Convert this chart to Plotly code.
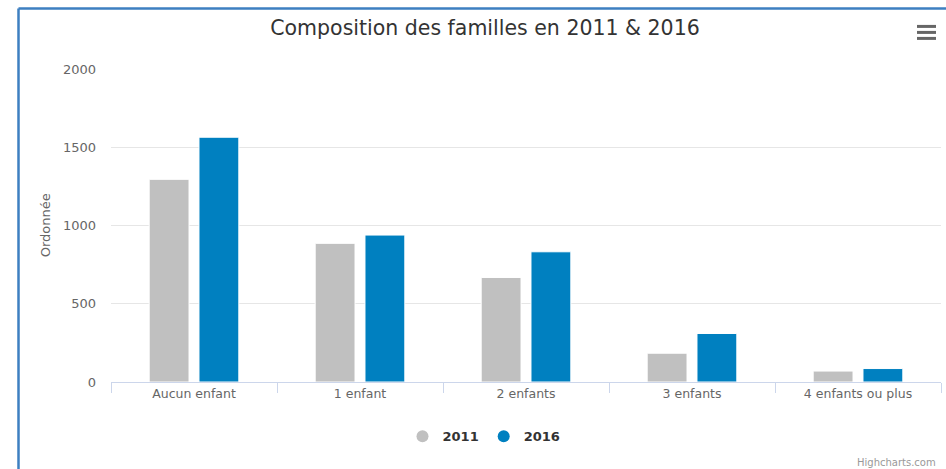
import plotly.graph_objects as go

categories = ["Aucun enfant", "1 enfant", "2 enfants", "3 enfants", "4 enfants ou plus"]
series_names = ["2011", "2016"]
values_2011 = [1295, 886, 668, 184, 70]
values_2016 = [1564, 939, 832, 310, 86]
colors = ["#c0c0c0", "#0080c0"]
y_ticks = [0, 500, 1000, 1500, 2000]

FONT = "DejaVu Sans"

fig = go.Figure()
for name, vals, col in zip(series_names, [values_2011, values_2016], colors):
    fig.add_trace(go.Bar(
        x=categories, y=vals, name=name, showlegend=False,
        marker=dict(color=col, line=dict(color="#ffffff", width=1)),
    ))
for name, col in zip(series_names, colors):
    fig.add_trace(go.Scatter(
        x=[None], y=[None], mode="markers", name=name,
        marker=dict(color=col, size=13, symbol="circle"),
    ))

W, H = 946, 469
L, R, T, B = 111, 5, 68.6, 87.3
pw = W - L - R
ph = H - T - B

def px(x):
    return (x - L) / pw

def py(y):
    return (H - B - y) / ph

shapes = [
    # container border (top and left)
    dict(type="line", xref="paper", yref="paper", x0=px(18.5), x1=px(950), y0=py(8), y1=py(8),
         line=dict(color="#3d7fc1", width=2.5)),
    dict(type="line", xref="paper", yref="paper", x0=px(18.5), x1=px(18.5), y0=py(8), y1=py(475),
         line=dict(color="#3d7fc1", width=2.5)),
]
# hamburger menu
for yy in [26, 32, 38]:
    shapes.append(dict(type="line", xref="paper", yref="paper", x0=px(917), x1=px(936),
                       y0=py(yy), y1=py(yy), line=dict(color="#666666", width=3)))

fig.update_layout(
    width=W, height=H,
    margin=dict(l=L, r=R, t=T, b=B),
    paper_bgcolor="white", plot_bgcolor="white",
    font=dict(family=FONT, color="#666666", size=12.5),
    title=dict(text="Composition des familles en 2011 & 2016", xref="container", x=485 / W,
               xanchor="center", yref="container", y=1 - 28 / H, yanchor="middle",
               font=dict(family=FONT, size=20.5, color="#333333")),
    barmode="group", bargap=0.4, bargroupgap=0.2,
    showlegend=True,
    legend=dict(orientation="h", x=px(484), xanchor="center", y=py(436), yanchor="middle",
                font=dict(family=FONT, size=13, color="#333333", weight="bold"),
                itemsizing="constant", itemwidth=30, bgcolor="rgba(0,0,0,0)"),
    xaxis=dict(showgrid=False, showline=True, linecolor="#ccd6eb", linewidth=1,
               ticks="outside", tickson="boundaries", ticklen=10, tickcolor="#ccd6eb",
               tickfont=dict(family=FONT, size=12.5, color="#666666"), zeroline=False),
    yaxis=dict(range=[0, 2000], tickvals=y_ticks, showgrid=True, gridcolor="#e6e6e6",
               gridwidth=1, zeroline=False, showline=False, ticks="",
               ticklabelstandoff=14,
               tickfont=dict(family=FONT, size=13, color="#666666")),
    shapes=shapes,
    annotations=[
        dict(text="Ordonnée", xref="paper", yref="paper", x=px(45), y=py(225),
             textangle=-90, showarrow=False, font=dict(family=FONT, size=13, color="#666666"),
             xanchor="center", yanchor="middle"),
        dict(text="Highcharts.com", xref="paper", yref="paper", x=px(938), y=py(462),
             showarrow=False, xanchor="right", yanchor="middle",
             font=dict(family=FONT, size=10, color="#999999")),
    ],
)

fig.write_html("out.html", config={"displayModeBar": False},
               post_script="document.body.style.margin='0px';document.body.style.padding='0px';")
